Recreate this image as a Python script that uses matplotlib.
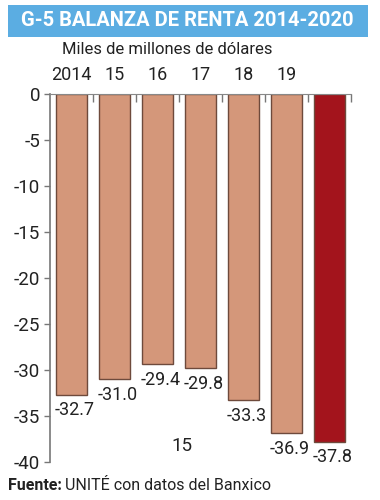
import matplotlib.pyplot as plt
from matplotlib.patches import Rectangle

years = ['2014', '15', '16', '17', '18', '19', '']
values = [-32.7, -31.0, -29.4, -29.8, -33.3, -36.9, -37.8]
labels = ['-32.7', '-31.0', '-29.4', '-29.8', '-33.3', '-36.9', '-37.8']
yticks = [0, -5, -10, -15, -20, -25, -30, -35, -40]

plt.rcParams['font.family'] = ['Roboto', 'DejaVu Sans']

fig = plt.figure(figsize=(3.8, 5), dpi=100)
ax = fig.add_axes([50/380, 1-462/500, 301/380, 368/500])

colors = ['#d4977a'] * 6 + ['#a3141c']
x = list(range(len(values)))
ax.bar(x, values, width=0.72, color=colors, edgecolor='#6e4a3c', linewidth=1.0, zorder=2)

for xi, v, lab in zip(x, values, labels):
    ax.text(xi + 0.08, v - 0.7, lab, ha='center', va='top', fontsize=13, color='#222222')

ax.set_xlim(-0.5, 6.5)
ax.set_ylim(-40, 0)
ax.set_yticks(yticks)
ax.set_yticklabels([str(t) for t in yticks], fontsize=13.5, color='#222222')
ax.tick_params(axis='y', length=4, width=1, color='#777777', pad=3)

# year labels on top
ax.xaxis.tick_top()
ax.set_xticks(x)
ax.set_xticklabels(years, fontsize=13, color='#222222')
ax.tick_params(axis='x', length=0, pad=7)
ax.set_xticks([i + 0.5 for i in range(7)], minor=True)
ax.tick_params(axis='x', which='minor', direction='in', length=6, width=1, color='#777777')

for s in ['right', 'bottom']:
    ax.spines[s].set_visible(False)
ax.spines['left'].set_color('#777777')
ax.spines['left'].set_linewidth(1.2)
ax.spines['top'].set_color('#888888')
ax.spines['top'].set_linewidth(0.8)

# stray label
ax.text(2.57, -38.3, '15', ha='center', va='center', fontsize=13.5, color='#222222')

# title banner
fig.patches.append(Rectangle((8/380, 1-37/500), 360/380, 32/500, transform=fig.transFigure,
                             facecolor='#5badE2', edgecolor='none'))
fig.text(187/380, 1-21/500, 'G-5 BALANZA DE RENTA 2014-2020', ha='center', va='center',
         fontsize=14.5, fontweight='bold', color='white')
fig.text(167/380, 1-50/500, 'Miles de millones de dólares', ha='center', va='center',
         fontsize=12, color='#222222')

f1 = fig.text(8/380, 1-486/500, 'Fuente:', ha='left', va='center', fontsize=11.5,
              fontweight='bold', color='#222222')
fig.canvas.draw()
bb = f1.get_window_extent()
fig.text((bb.x1 + 3) / 380, 1-486/500, 'UNITÉ con datos del Banxico', ha='left', va='center',
         fontsize=11.5, color='#222222')

fig.savefig('out.png', dpi=100)
